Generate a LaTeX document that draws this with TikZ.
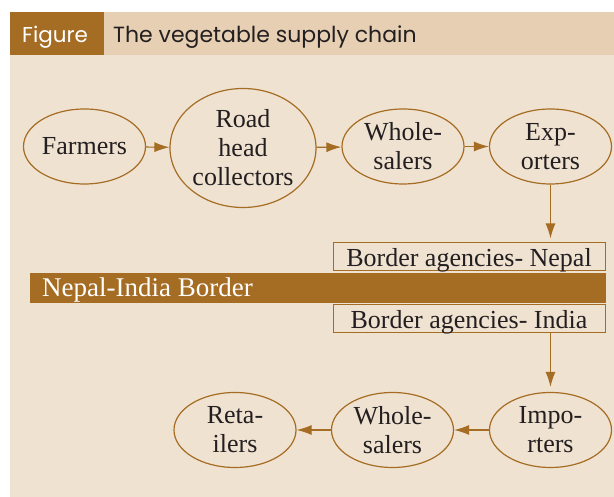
\documentclass[tikz,border=0pt]{standalone}
\usepackage{fontspec}
\setmainfont{Liberation Serif}
\newfontfamily\headfont{Poppins}
\usetikzlibrary{shapes.geometric,arrows.meta}
\definecolor{chainbrown}{HTML}{A56C23}
\definecolor{headtan}{HTML}{E7CFB4}
\definecolor{paneltan}{HTML}{F0E2D1}
\definecolor{inkgray}{HTML}{231F20}

\begin{document}
\begin{tikzpicture}[x=1pt,y=1pt,
  stage/.style={ellipse,draw=chainbrown,line width=1.2pt,minimum width=122pt,
    minimum height=75pt,inner sep=0pt,align=center,text=inkgray,
    font=\fontsize{26}{29}\selectfont},
  agency/.style={draw=chainbrown,line width=1pt,minimum width=272pt,
    minimum height=28pt,inner sep=0pt,text depth=0pt,text=inkgray,
    font=\fontsize{26}{29}\selectfont},
  flow/.style={-{Latex[length=15pt,width=10pt]},draw=chainbrown,line width=1.2pt}]
  \useasboundingbox (0,0) rectangle (614,497);

  % panel and title strip
  \fill[paneltan] (10,0) rectangle (614,442);
  \fill[headtan] (10,442) rectangle (614,485);
  \fill[chainbrown] (10,442) rectangle (104,485);
  \node[anchor=base west,inner sep=0pt,text=white,
    font=\headfont\fontsize{21.5}{24}\selectfont] (figtag) at (22,454) {Figure};
  \node[anchor=base west,inner sep=0pt,text=inkgray,
    font=\headfont\fontsize{22}{24}\selectfont] (figtitle) at (113,454)
    {The vegetable supply chain};

  % Nepal side
  \node[stage] (farmers) at (84.5,350.5) {Farmers};
  \node[stage,minimum width=146pt,minimum height=119pt] (roadhead) at (243,349)
    {Road\\head\\collectors};
  \node[stage] (wholesalersnp) at (403,350.5) {Whole-\\salers};
  \node[stage] (exporters) at (550.5,350.5) {Exp-\\orters};
  \node[agency] (agencynp) at (469,240) {Border agencies- Nepal};

  % the border itself
  \fill[chainbrown] (30,194) rectangle (606,224);
  \node[anchor=base west,inner sep=0pt,text=white,
    font=\fontsize{27}{29}\selectfont] (borderlabel) at (42,200)
    {Nepal-India Border};

  % India side
  \node[agency] (agencyin) at (469,178) {Border agencies- India};
  \node[stage] (importers) at (550.5,67) {Impo-\\rters};
  \node[stage] (wholesalersin) at (392.5,67) {Whole-\\salers};
  \node[stage] (retailers) at (235,67) {Reta-\\ilers};

  \draw[flow] (farmers) -- (roadhead);
  \draw[flow] (roadhead) -- (wholesalersnp);
  \draw[flow] (wholesalersnp) -- (exporters);
  \draw[flow,shorten >=4pt] (exporters.south) -- (exporters.south |- agencynp.north);
  \draw[flow,shorten >=5pt] (agencyin.south -| importers.north) -- (importers.north);
  \draw[flow] (importers) -- (wholesalersin);
  \draw[flow] (wholesalersin) -- (retailers);
\end{tikzpicture}
\end{document}
